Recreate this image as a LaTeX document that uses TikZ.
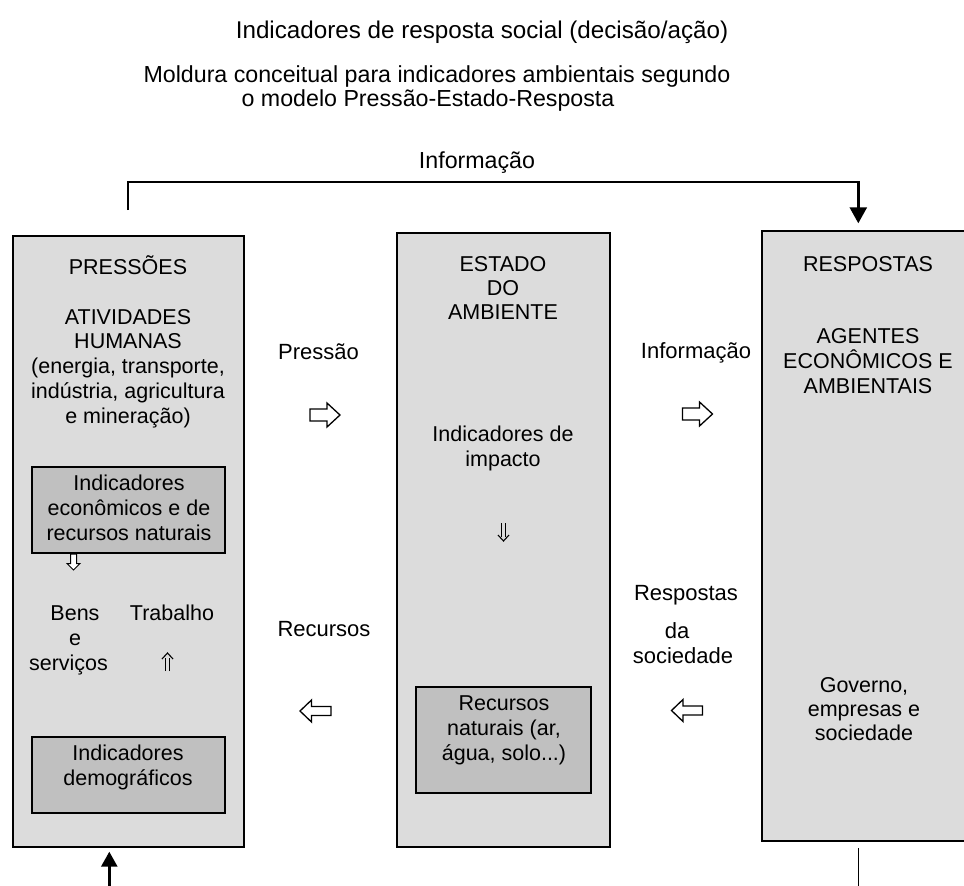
\documentclass[tikz,border=0pt]{standalone}
\usepackage{fontspec}
\setmainfont{Liberation Sans}
\usetikzlibrary{arrows.meta}
\definecolor{boxgray}{RGB}{220,220,220}
\definecolor{innergray}{RGB}{192,192,192}
\begin{document}
\begin{tikzpicture}[x=1pt,y=-1pt,
  boxtxt/.style={font=\fontsize{21.5}{24.8}\selectfont, align=center, anchor=base, inner sep=0pt},
  midtxt/.style={font=\fontsize{22}{24.8}\selectfont, align=center, anchor=base, inner sep=0pt},
  toptxt/.style={font=\fontsize{23.2}{24}\selectfont, align=center, anchor=base, inner sep=0pt},
  outerbox/.style={draw=black, line width=2pt, fill=boxgray, anchor=north west, inner sep=0pt},
  innerbox/.style={draw=black, line width=2pt, fill=innergray, anchor=north west, inner sep=0pt},
  barrow/.style={draw=black, fill=white, line width=1.3pt, line join=miter},
  flow/.style={line width=2.6pt, -{Triangle[length=16pt,width=17pt]}},
  rarrow/.pic={\path[barrow] (-15,-6) -- (2,-6) -- (2,-12) -- (15,0) -- (2,12) -- (2,6) -- (-15,6) -- cycle;},
  larrow/.pic={\path[barrow] (15.5,-4.5) -- (-4,-4.5) -- (-4,-11) -- (-15.5,0) -- (-4,11) -- (-4,4.5) -- (15.5,4.5) -- cycle;},
  hollowdown/.pic={\path[barrow, line width=1pt] (-3,-8) -- (3,-8) -- (3,1.5) -- (6.5,1.5) -- (0,8) -- (-6.5,1.5) -- (-3,1.5) -- cycle;},
  dblup/.pic={\draw[line width=1.1pt] (-2.2,9) -- (-2.2,-4.5) (2.2,9) -- (2.2,-4.5); \draw[line width=1.1pt] (-5.5,-3) -- (0,-9) -- (5.5,-3);},
  dbldown/.pic={\draw[line width=1.1pt] (-2.2,-9) -- (-2.2,4.5) (2.2,-9) -- (2.2,4.5); \draw[line width=1.1pt] (-5.5,3) -- (0,9) -- (5.5,3);}
]
\useasboundingbox (0,0) rectangle (964,886);
\fill[white] (0,0) rectangle (964,886);

% top texts
\node[toptxt, font=\fontsize{24.2}{24}\selectfont] (title) at (482,38) {Indicadores de resposta social (decisão/ação)};
\node[toptxt] (mold1) at (437,82) {Moldura conceitual para indicadores ambientais segundo};
\node[toptxt] (mold2) at (428,106) {o modelo Pressão-Estado-Resposta};
\node[toptxt] (infotop) at (477,168) {Informação};

% big boxes
\node[outerbox, minimum width=231pt, minimum height=611pt] (press) at (12,235) {};
\node[outerbox, minimum width=213pt, minimum height=614pt] (estado) at (396,232) {};
\node[outerbox, minimum width=205pt, minimum height=610pt] (resp) at (761,230) {};

% inner boxes
\node[innerbox, minimum width=193pt, minimum height=86pt] (econ) at (31,466) {};
\node[innerbox, minimum width=193pt, minimum height=76pt] (demo) at (31,736) {};
\node[innerbox, minimum width=175pt, minimum height=106pt] (recnat) at (415,686) {};

% left box texts (anchor base = last line)
\node[boxtxt] (tpress) at (128,274) {PRESSÕES};
\node[boxtxt] (tativ) at (128,423.2) {ATIVIDADES\\HUMANAS\\(energia, transporte,\\indústria, agricultura\\e mineração)};
\node[boxtxt] (tecon) at (129,540.3) {Indicadores\\econômicos e de\\recursos naturais};
\node[boxtxt] (tbens) at (75,620) {Bens};
\node[boxtxt] (te) at (75,645) {e};
\node[boxtxt] (tserv) at (68.5,670) {serviços};
\node[boxtxt] (ttrab) at (172,620) {Trabalho};
\node[boxtxt] (tdemo) at (128,785) {Indicadores\\demográficos};
\pic at (73.5,562) {hollowdown};
\pic at (167.5,662) {dblup};

% middle box texts
\node[boxtxt, font=\fontsize{21.5}{23.7}\selectfont] (testado) at (503,319) {ESTADO\\DO\\AMBIENTE};
\node[boxtxt] (timpact) at (503,466) {Indicadores de\\impacto};
\node[boxtxt] (trecnat) at (504,760) {Recursos\\naturais (ar,\\água, solo...)};
\pic at (503.5,532) {dbldown};

% right box texts
\node[boxtxt] (tresp) at (868,271) {RESPOSTAS};
\node[boxtxt] (tagent) at (868,393) {AGENTES\\ECONÔMICOS E\\AMBIENTAIS};
\node[boxtxt, font=\fontsize{21.5}{24}\selectfont] (tgov) at (864,740) {Governo,\\empresas e\\sociedade};

% between-box labels
\node[midtxt] (lpress) at (318.5,359.5) {Pressão};
\node[midtxt] (linfo) at (696,358) {Informação};
\node[midtxt] (lrec) at (324,636.7) {Recursos};
\node[midtxt] (lresp1) at (686,600) {Respostas};
\node[midtxt] (lresp2) at (677,638) {da};
\node[midtxt] (lresp3) at (683,663) {sociedade};
\pic at (325,415) {rarrow};
\pic at (697.5,414) {rarrow};
\pic at (315.5,711) {larrow};
\pic at (687,710.5) {larrow};

% information feedback line
\coordinate (infoL) at (128,210);
\coordinate (infoR) at (858.3,223.3);
\draw[flow] (infoL) -- (128,182) -| (infoR);

% bottom connectors
\coordinate (botL) at (109.3,886);
\coordinate (botLtip) at (109.3,851.7);
\draw[line width=2.6pt, -{Triangle[length=15pt,width=16pt]}] (botL) -- (botLtip);
\coordinate (botR1) at (858.3,848);
\coordinate (botR2) at (858.3,886);
\draw[line width=1.3pt] (botR1) -- (botR2);
\end{tikzpicture}
\end{document}
